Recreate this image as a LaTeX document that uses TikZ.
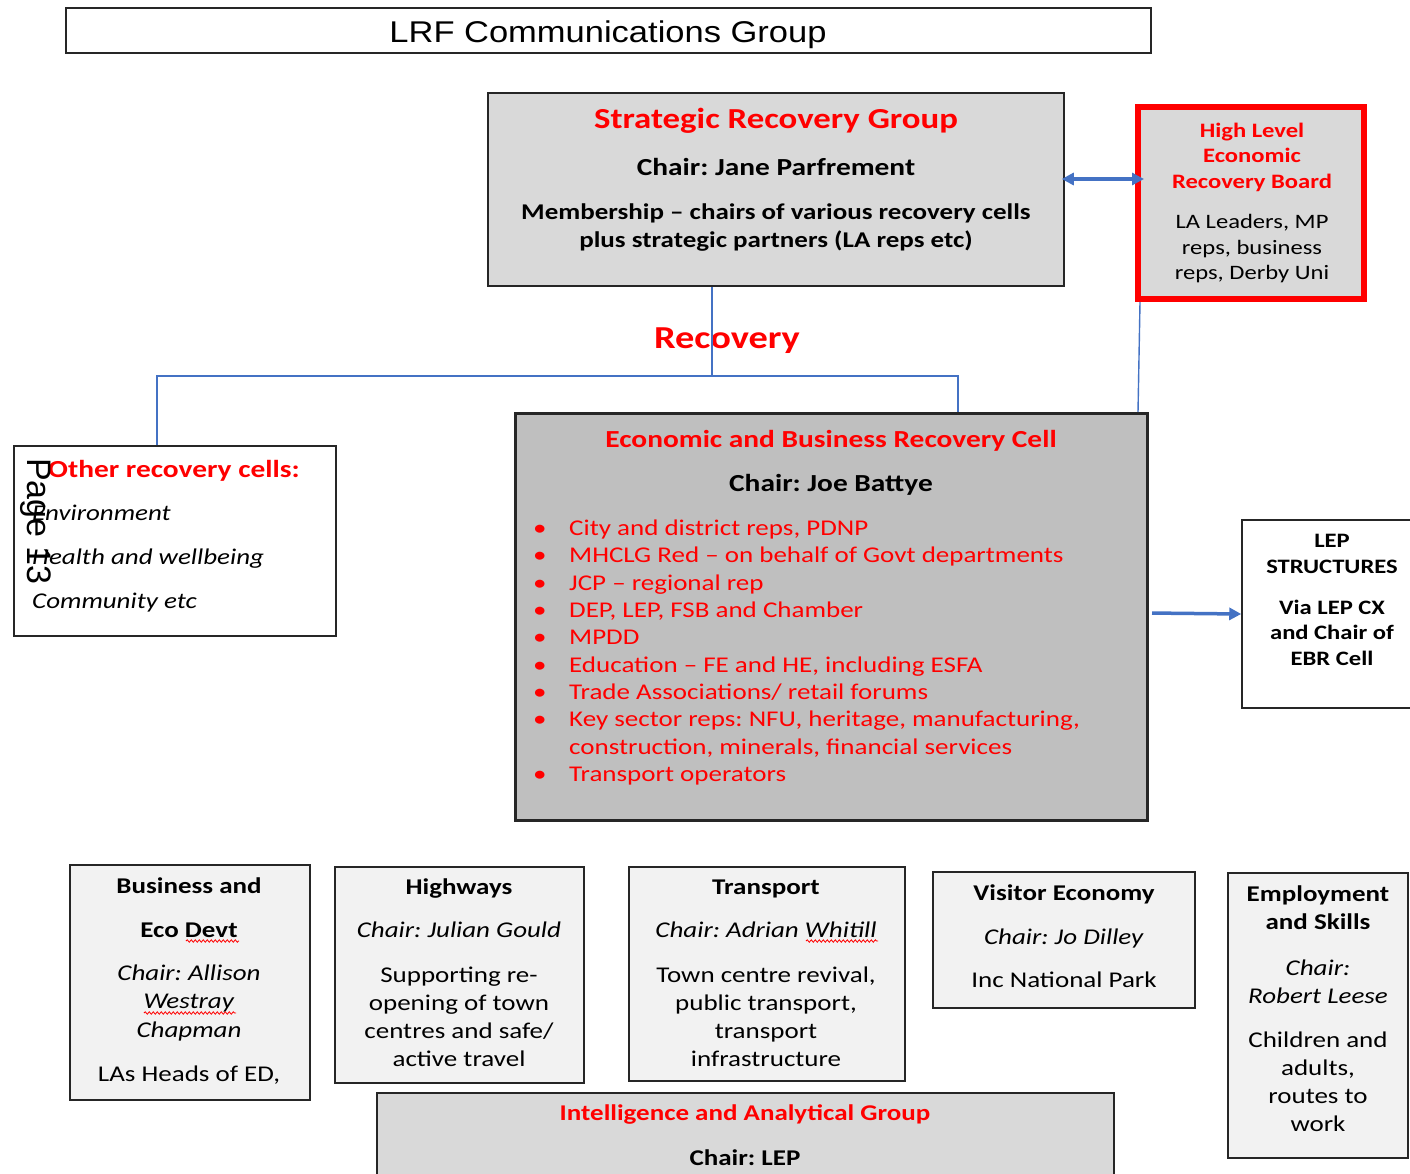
\documentclass[tikz,border=0pt]{standalone}
\usepackage{fontspec}
\setmainfont{Carlito}[FakeStretch=1.2]
\newfontfamily\titlefont{Liberation Sans}[FakeStretch=1.15]
\newfontfamily\pagefont{Liberation Sans}
\usetikzlibrary{arrows.meta,decorations.pathmorphing}
\frenchspacing

\definecolor{linkblue}{HTML}{4472C4}
\definecolor{boxgrey}{HTML}{D9D9D9}
\definecolor{cellgrey}{HTML}{BFBFBF}
\definecolor{paleg}{HTML}{F2F2F2}
\definecolor{alertred}{HTML}{FF0000}

\newcommand{\fsz}[2]{\fontsize{#1}{#2}\selectfont}
\newcommand{\bul}{\makebox[36pt][l]{\textbullet}}
\newcommand{\cont}{\hspace*{36pt}}

\begin{document}
\begin{tikzpicture}[x=1pt,y=-1pt,
    box/.style={draw=black!85, line width=1.5pt, inner sep=0pt},
    txt/.style={align=center, inner sep=0pt, yshift=-2.5pt},
    link/.style={draw=linkblue, line width=1.4pt},
    fatarrow/.style={draw=linkblue, line width=3.5pt, -{Triangle[length=12pt,width=12pt]}},
    squiggle/.style={draw=alertred, line width=0.8pt, decorate,
        decoration={snake, amplitude=1.2pt, segment length=4pt}}
  ]
  \clip (0,0) rectangle (1410,1173);
  \fill[white] (0,0) rectangle (1410,1173);

  % top banner
  \node[box, minimum width=1085pt, minimum height=45pt] (lrf) at (608.5,30.5) {};
  \node[txt, font=\titlefont\fsz{30}{36}] (lrf-text) at (608,32) {LRF Communications Group};

  % strategic level
  \node[box, fill=boxgrey, minimum width=576pt, minimum height=193pt] (srg) at (776,189.5) {};
  \node[txt, text=alertred, font=\bfseries\fsz{29}{35}] (srg-title) at (776,118) {Strategic Recovery Group};
  \node[txt, font=\bfseries\fsz{24.5}{30}] (srg-chair) at (776,164.5) {Chair: Jane Parfrement};
  \node[txt, font=\bfseries\fsz{22.5}{28}] (srg-members) at (776,225) {Membership – chairs of various recovery cells\\plus strategic partners (LA reps etc)};

  \node[box, draw=alertred, line width=6pt, fill=boxgrey, minimum width=226pt, minimum height=192pt] (hlerb) at (1251,203) {};
  \node[txt, text=alertred, font=\bfseries\fsz{20.5}{25.5}] (hlerb-title) at (1252,154.5) {High Level\\Economic\\Recovery Board};
  \node[txt, font=\fsz{20.5}{25.5}] (hlerb-members) at (1252,246.5) {LA Leaders, MP\\reps, business\\reps, Derby Uni};

  \node[txt, text=alertred, font=\bfseries\fsz{32}{38}] (recovery) at (727,338) {Recovery};

  % recovery cells
  \node[box, fill=white, minimum width=322pt, minimum height=190pt] (other) at (175,541) {};
  \node[txt, anchor=west, text=alertred, font=\bfseries\fsz{24.5}{30}] (other-title) at (48,468) {Other recovery cells:};
  \node[txt, anchor=west, align=left, font=\itshape\fsz{22.5}{44}] (other-list) at (32,556) {Environment\\Health and wellbeing\\Community etc};
  \node[txt, rotate=-90, font=\pagefont\fsz{34}{40}] (pageno) at (36,519) {Page 13};

  \node[box, line width=3pt, fill=cellgrey, minimum width=632pt, minimum height=407pt] (ebrc) at (831.5,617) {};
  \node[txt, text=alertred, font=\bfseries\fsz{24.5}{30}] (ebrc-title) at (831,438) {Economic and Business Recovery Cell};
  \node[txt, font=\bfseries\fsz{24.5}{30}] (ebrc-chair) at (831,482) {Chair: Joe Battye};
  \node[txt, anchor=west, align=left, text=alertred, font=\fsz{22.5}{27.3}] (ebrc-list) at (533,650) {%
    \bul City and district reps, PDNP\\
    \bul MHCLG Red – on behalf of Govt departments\\
    \bul JCP – regional rep\\
    \bul DEP, LEP, FSB and Chamber\\
    \bul MPDD\\
    \bul Education – FE and HE, including ESFA\\
    \bul Trade Associations/ retail forums\\
    \bul Key sector reps: NFU, heritage, manufacturing,\\
    \cont construction, minerals, financial services\\
    \bul Transport operators};

  \node[box, fill=white, minimum width=180pt, minimum height=188pt] (lep) at (1332,614) {};
  \node[txt, font=\bfseries\fsz{20.5}{25.5}] (lep-text) at (1332,597.5) {LEP\\STRUCTURES\\[15.5pt]Via LEP CX\\and Chair of\\EBR Cell};

  % sub groups
  \node[box, fill=paleg, minimum width=240pt, minimum height=235pt] (bized) at (190,982.5) {};
  \node[txt, font=\fsz{22.5}{28.5}] (bized-text) at (189,978.5) {\textbf{Business and}\\[15.5pt]\textbf{Eco Devt}\\[14.5pt]\textit{Chair: Allison}\\\textit{Westray}\\\textit{Chapman}\\[15.5pt]LAs Heads of ED,};

  \node[box, fill=paleg, minimum width=249pt, minimum height=216pt] (hwy) at (459.5,975) {};
  \node[txt, font=\fsz{22.5}{28}] (hwy-text) at (459,970.5) {\textbf{Highways}\\[15pt]\textit{Chair: Julian Gould}\\[17pt]Supporting re-\\opening of town\\centres and safe/\\active travel};

  \node[box, fill=paleg, minimum width=276pt, minimum height=214pt] (trans) at (767,974) {};
  \node[txt, font=\fsz{22.5}{28}] (trans-text) at (766,970.5) {\textbf{Transport}\\[15pt]\textit{Chair: Adrian Whitill}\\[17pt]Town centre revival,\\public transport,\\transport\\infrastructure};

  \node[box, fill=paleg, minimum width=262pt, minimum height=136pt] (visit) at (1064,940) {};
  \node[txt, font=\fsz{22.5}{43.5}] (visit-text) at (1064,934) {\textbf{Visitor Economy}\\\textit{Chair: Jo Dilley}\\Inc National Park};

  \node[box, fill=paleg, minimum width=180pt, minimum height=285pt] (skills) at (1318,1015.5) {};
  \node[txt, font=\fsz{22.5}{28}] (skills-text) at (1318,1006) {\textbf{Employment}\\\textbf{and Skills}\\[18pt]\textit{Chair:}\\\textit{Robert Leese}\\[16pt]Children and\\adults,\\routes to\\work};

  \node[box, fill=boxgrey, minimum width=737pt, minimum height=97pt] (intel) at (745.5,1141.5) {};
  \node[txt, text=alertred, font=\bfseries\fsz{22.5}{28}] (intel-title) at (745,1112) {Intelligence and Analytical Group};
  \node[txt, font=\bfseries\fsz{22.5}{28}] (intel-chair) at (745,1155) {Chair: LEP};

  % spelling marks
  \draw[squiggle] (186,941) -- (239,941);
  \draw[squiggle] (144,1013) -- (236,1013);
  \draw[squiggle] (806,941) -- (878,941);

  % connectors
  \coordinate (hub) at (712,376);
  \draw[link] ([xshift=-64pt]srg.south) -- (hub);
  \draw[link] ([xshift=-18pt]other.north) |- (hub) -| ([xshift=126.5pt]ebrc.north);
  \draw[link] ([xshift=-111pt]hlerb.south) -- ([xshift=306.5pt]ebrc.north);
  \draw[fatarrow, {Triangle[length=12pt,width=12pt]}-{Triangle[length=12pt,width=12pt]}, shorten <=-3pt, shorten >=-9pt] ([yshift=10.5pt]srg.east) -- ([yshift=24pt]hlerb.west);
  \draw[fatarrow, shorten <=3pt] ([yshift=4pt]ebrc.east) -- (lep.west);
\end{tikzpicture}
\end{document}
